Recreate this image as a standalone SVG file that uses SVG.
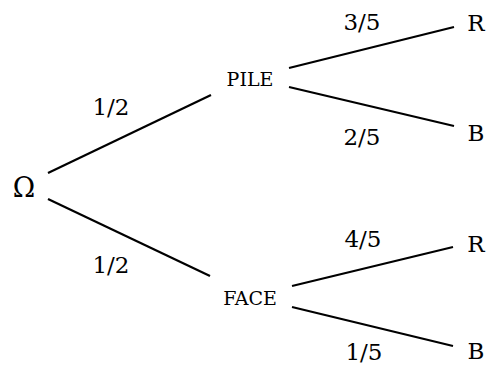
<svg xmlns="http://www.w3.org/2000/svg" width="487" height="365" viewBox="0 0 487 365">
  <style>
    .edge { stroke: #000; stroke-width: 2.2; fill: none; stroke-linecap: butt; }
    text { font-family: "DejaVu Serif", "Liberation Serif", serif; fill: #000; }
    .lbl { font-size: 23px; text-anchor: middle; }
    .leaf { font-size: 23px; text-anchor: middle; }
    .mid { font-size: 19px; text-anchor: middle; }
    .root { font-size: 27px; text-anchor: middle; }
  </style>
  <rect width="487" height="365" fill="#fff"/>

  <!-- branches of the probability tree -->
  <g id="connectors">
    <line class="edge" x1="48" y1="173" x2="211" y2="95"/>
    <line class="edge" x1="48" y1="199" x2="210" y2="276"/>
    <line class="edge" x1="289" y1="68" x2="454" y2="27"/>
    <line class="edge" x1="289" y1="87" x2="454" y2="126"/>
    <line class="edge" x1="292" y1="286" x2="453" y2="247"/>
    <line class="edge" x1="292" y1="307" x2="453" y2="346"/>
  </g>

  <!-- branch probabilities -->
  <g id="labels">
    <text class="lbl" x="111" y="115">1/2</text>
    <text class="lbl" x="111" y="273">1/2</text>
    <text class="lbl" x="362" y="30">3/5</text>
    <text class="lbl" x="362" y="145">2/5</text>
    <text class="lbl" x="363" y="247">4/5</text>
    <text class="lbl" x="364" y="360">1/5</text>
  </g>

  <g id="omega"><text class="root" x="24" y="197">Ω</text></g>
  <g id="pile"><text class="mid" x="250" y="86">PILE</text></g>
  <g id="face"><text class="mid" x="250" y="305">FACE</text></g>
  <g id="pile-r"><text class="leaf" x="476" y="31">R</text></g>
  <g id="pile-b"><text class="leaf" x="476" y="141">B</text></g>
  <g id="face-r"><text class="leaf" x="476" y="252">R</text></g>
  <g id="face-b"><text class="leaf" x="476" y="359">B</text></g>
</svg>
